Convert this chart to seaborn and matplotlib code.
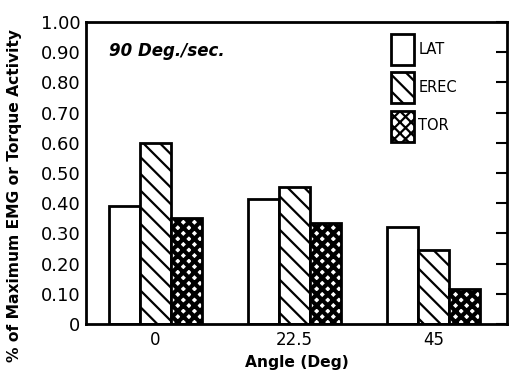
import matplotlib
matplotlib.use("Agg")
import matplotlib.pyplot as plt
import seaborn as sns
import pandas as pd

# Data
angles = ["0", "22.5", "45"]
muscles = ["LAT", "EREC", "TOR"]
lat = [0.39, 0.415, 0.32]
erec = [0.60, 0.455, 0.245]
tor = [0.35, 0.335, 0.115]
ytick_values = [0, 0.1, 0.2, 0.3, 0.4, 0.5, 0.6, 0.7, 0.8, 0.9, 1.0]
ytick_labels = ["0", "0.10", "0.20", "0.30", "0.40", "0.50",
                "0.60", "0.70", "0.80", "0.90", "1.00"]

df = pd.DataFrame({
    "angle": angles * 3,
    "muscle": [m for m in muscles for _ in angles],
    "value": lat + erec + tor,
})

sns.set_style("white")
plt.rcParams["font.family"] = ["DejaVu Sans"]
plt.rcParams["text.color"] = "black"
plt.rcParams["axes.labelcolor"] = "black"
plt.rcParams["xtick.color"] = "black"
plt.rcParams["ytick.color"] = "black"
plt.rcParams["hatch.linewidth"] = 1.6
plt.rcParams["hatch.color"] = "black"

fig = plt.figure(figsize=(5.16, 3.79), dpi=100)
ax = fig.add_axes([0.1667, 0.1451, 0.8159, 0.7969])

sns.barplot(data=df, x="angle", y="value", hue="muscle", order=angles,
            hue_order=muscles, width=0.67, gap=0, ax=ax,
            palette=["white", "white", "white"], edgecolor="black",
            linewidth=2.0, saturation=1, legend=False)

hatches = ["", "\\\\", "xxx"]
hatch_lw = [1.6, 1.6, 3.0]
for cont, h, hlw in zip(ax.containers, hatches, hatch_lw):
    for p in cont.patches:
        p.set_hatch(h)
        p.set_edgecolor("black")
        p.set_facecolor("white")
        if hasattr(p, "set_hatch_linewidth"):
            p.set_hatch_linewidth(hlw)

ax.set_ylim(0, 1.0)
ax.set_xlim(-0.5, 2.53)
ax.set_yticks(ytick_values)
ax.set_yticklabels(ytick_labels)
ax.tick_params(axis="y", direction="in", length=8, width=1.5, right=True,
               labelsize=13, pad=4)
ax.tick_params(axis="x", length=0, labelsize=12, pad=5)
for s in ax.spines.values():
    s.set_linewidth(2.0)
    s.set_color("black")

ax.set_xlabel("Angle (Deg)", fontsize=11.2, fontweight="bold", labelpad=4)
ax.set_ylabel("% of Maximum EMG or Torque Activity", fontsize=11.2,
              fontweight="bold")
ax.yaxis.set_label_coords(-0.152, 0.424)

ax.text(0.055, 0.905, "90 Deg./sec.", transform=ax.transAxes, fontsize=12,
        fontweight="bold", fontstyle="italic", va="center", ha="left")

handles = [c.patches[0] for c in ax.containers]
ax.legend(handles, muscles, loc="upper right", bbox_to_anchor=(0.895, 0.98),
          frameon=False, fontsize=10.5, handlelength=1.6, handleheight=2.9,
          labelspacing=0.5, handletextpad=0.3, borderaxespad=0)

fig.savefig("out.png", dpi=100)
